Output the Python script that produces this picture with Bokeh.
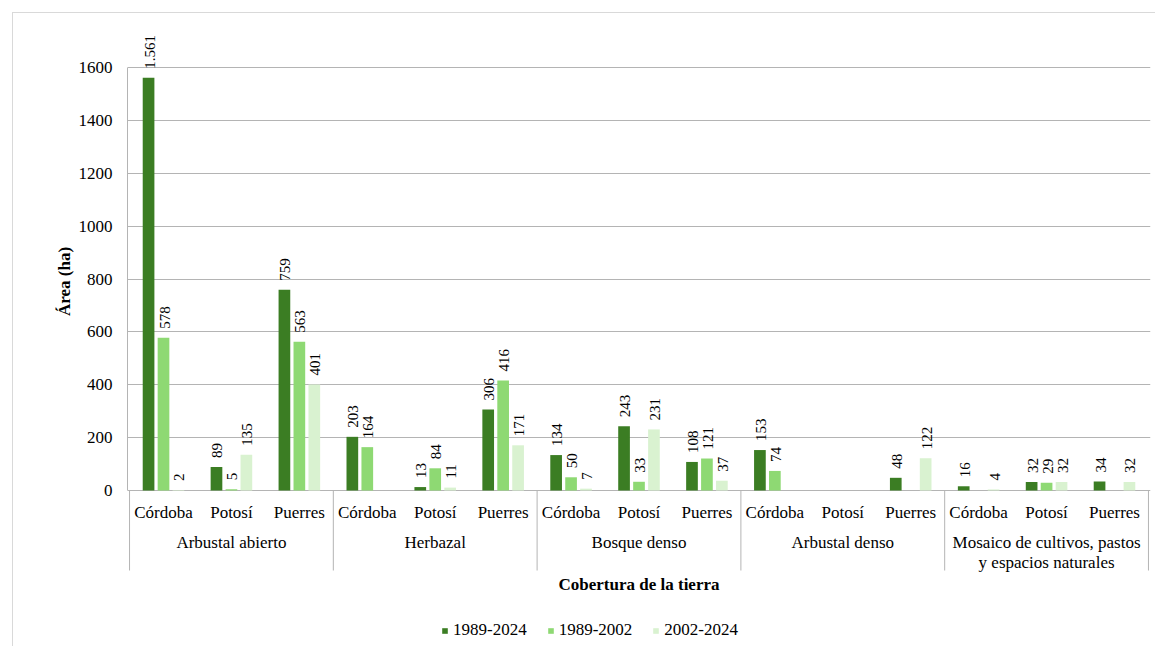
import math
from bokeh.plotting import figure
from bokeh.models import (ColumnDataSource, FactorRange, Range1d, FixedTicker,
                          Legend, LegendItem, Title)
from bokeh.transform import dodge
from bokeh.core.properties import value
from bokeh.embed import file_html
from bokeh.resources import INLINE

# ---------------- data ----------------
groups = ["Arbustal abierto", "Herbazal", "Bosque denso", "Arbustal denso",
          "Mosaico de cultivos, pastos y espacios naturales"]
group_label_lines = [["Arbustal abierto"], ["Herbazal"], ["Bosque denso"], ["Arbustal denso"],
                     ["Mosaico de cultivos, pastos", "y espacios naturales"]]
municipios = ["Córdoba", "Potosí", "Puerres"]
series_names = ["1989-2024", "1989-2002", "2002-2024"]
v_1989_2024 = [1561, 89, 759, 203, 13, 306, 134, 243, 108, 153, None, 48, 16, 32, 34]
v_1989_2002 = [578, 5, 563, 164, 84, 416, 50, 33, 121, 74, None, None, None, 29, None]
v_2002_2024 = [2, 135, 401, None, 11, 171, 7, 231, 37, None, None, 122, 4, 32, 32]
y_ticks = [0, 200, 400, 600, 800, 1000, 1200, 1400, 1600]
x_title = "Cobertura de la tierra"
y_title = "Área (ha)"

# ---------------- style ----------------
colors = ["#3B7D23", "#8ED973", "#D9F2D0"]
FONT = "Liberation Serif"
GRID = "#b4b4b4"
offsets = [-0.22, 0.0, 0.22]
BAR_W = 0.172

# layout (page pixels); canvas origin = 12px margin + 1px border
M = 12
OX, OY = M + 1, M + 1
W, H = 1143, 634
frame_left_px, frame_right_px, frame_top_px = 127, 1150, 30
zero_px, top_tick_px = 490, 67
frame_bottom_px = 645
ppu = (zero_px - top_tick_px) / y_ticks[-1]
y_end = y_ticks[-1] + (top_tick_px - frame_top_px) / ppu
y_start = -(frame_bottom_px - zero_px) / ppu
sep_bottom = -(570 - zero_px) / ppu
# the y title starts (bottom end) this far above the frame bottom
y_title_bottom_px = 313
title_offset = frame_bottom_px - y_title_bottom_px - 2.5

factors = [(g, m) for g in groups for m in municipios]
series = [v_1989_2024, v_1989_2002, v_2002_2024]

src = ColumnDataSource(dict(
    x=factors,
    s0=[float("nan") if v is None else v for v in v_1989_2024],
    s1=[float("nan") if v is None else v for v in v_1989_2002],
    s2=[float("nan") if v is None else v for v in v_2002_2024],
))

p = figure(width=W, height=H, title=None, toolbar_location=None,
           output_backend="svg",
           x_range=FactorRange(factors=factors, range_padding=0.03, range_padding_units="absolute",
                               group_padding=0, factor_padding=0, subgroup_padding=0),
           y_range=Range1d(y_start, y_end),
           x_axis_location=None,
           min_border_left=frame_left_px - OX, min_border_right=OX + W - frame_right_px,
           min_border_top=frame_top_px - OY, min_border_bottom=OY + H - frame_bottom_px)
p.margin = (M, 0, 0, M)
p.styles = {"border-top": "1px solid #d9d9d9", "border-left": "1px solid #d9d9d9"}
p.outline_line_color = None
p.background_fill_color = "white"
p.border_fill_color = "white"
for g in p.xgrid:
    g.visible = False

ticker = FixedTicker(ticks=y_ticks)
ax = p.yaxis[0]
ax.ticker = ticker
ax.bounds = (0, y_ticks[-1])
ax.axis_line_color = GRID
ax.major_tick_line_color = None
ax.minor_tick_line_color = None
ax.major_tick_out = 0
ax.major_tick_in = 0
ax.major_label_standoff = 15
ax.major_label_text_font = FONT
ax.major_label_text_font_size = "17px"
ax.major_label_text_color = "black"
p.ygrid[0].ticker = ticker
p.ygrid[0].grid_line_color = GRID

# y-axis title in the left panel, placed over the 0..1600 span
p.add_layout(Title(text=y_title, align="left", offset=title_offset, standoff=4,
                   text_font=FONT, text_font_size="17px", text_font_style="bold",
                   text_color="black"), "left")

# bars
renderers = []
for i, name in enumerate(series_names):
    r = p.vbar(x=dodge("x", offsets[i], range=p.x_range), top="s%d" % i, width=BAR_W,
               source=src, fill_color=colors[i], line_color=None)
    renderers.append(r)

# value labels
for i, vals in enumerate(series):
    xs, ys, ts = [], [], []
    for f, v in zip(factors, vals):
        if v is None:
            continue
        xs.append(f)
        ys.append(v)
        ts.append(f"{v:,}".replace(",", "."))
    lsrc = ColumnDataSource(dict(x=xs, y=ys, t=ts))
    p.text(x=dodge("x", offsets[i], range=p.x_range), y="y", text="t", source=lsrc,
           angle=math.pi / 2, text_align="left", text_baseline="middle",
           x_offset=1, y_offset=-9, text_font=value(FONT), text_font_size="15px",
           text_color="black")

# category separators
sep_x = [(g, municipios[0], -0.5) for g in groups] + [(groups[-1], municipios[-1], 0.5)]
p.segment(x0=sep_x, x1=sep_x, y0=[0] * len(sep_x), y1=[sep_bottom] * len(sep_x),
          line_color=GRID, line_width=1)

# sub-category labels
p.text(x=factors, y=[0] * len(factors), text=[f[1] for f in factors],
       text_align="center", text_baseline="middle", y_offset=22,
       text_font=value(FONT), text_font_size="17px", text_color="black")

# group labels
gx, gt, gy = [], [], []
for g, lines in zip(groups, group_label_lines):
    for k, line in enumerate(lines):
        gx.append((g, municipios[1]))
        gt.append(line)
        gy.append(52 + 20 * k)
p.text(x=gx, y=[0] * len(gx), text=gt, y_offset=gy,
       text_align="center", text_baseline="middle",
       text_font=value(FONT), text_font_size="17px", text_color="black")

# x title
p.text(x=[(groups[2], municipios[1])], y=[0], text=[x_title], y_offset=94,
       text_align="center", text_baseline="middle", text_font=value(FONT),
       text_font_size="17px", text_font_style="bold", text_color="black")

legend = Legend(items=[LegendItem(label=n, renderers=[r]) for n, r in zip(series_names, renderers)],
                orientation="horizontal", location=(441 - frame_left_px, 5),
                glyph_width=7, glyph_height=7,
                label_standoff=5, spacing=20, padding=0, margin=0,
                border_line_color=None, background_fill_alpha=0,
                label_text_font=FONT, label_text_font_size="17px", label_text_color="black")
p.add_layout(legend)

open("out.html", "w").write(file_html(p, INLINE))
